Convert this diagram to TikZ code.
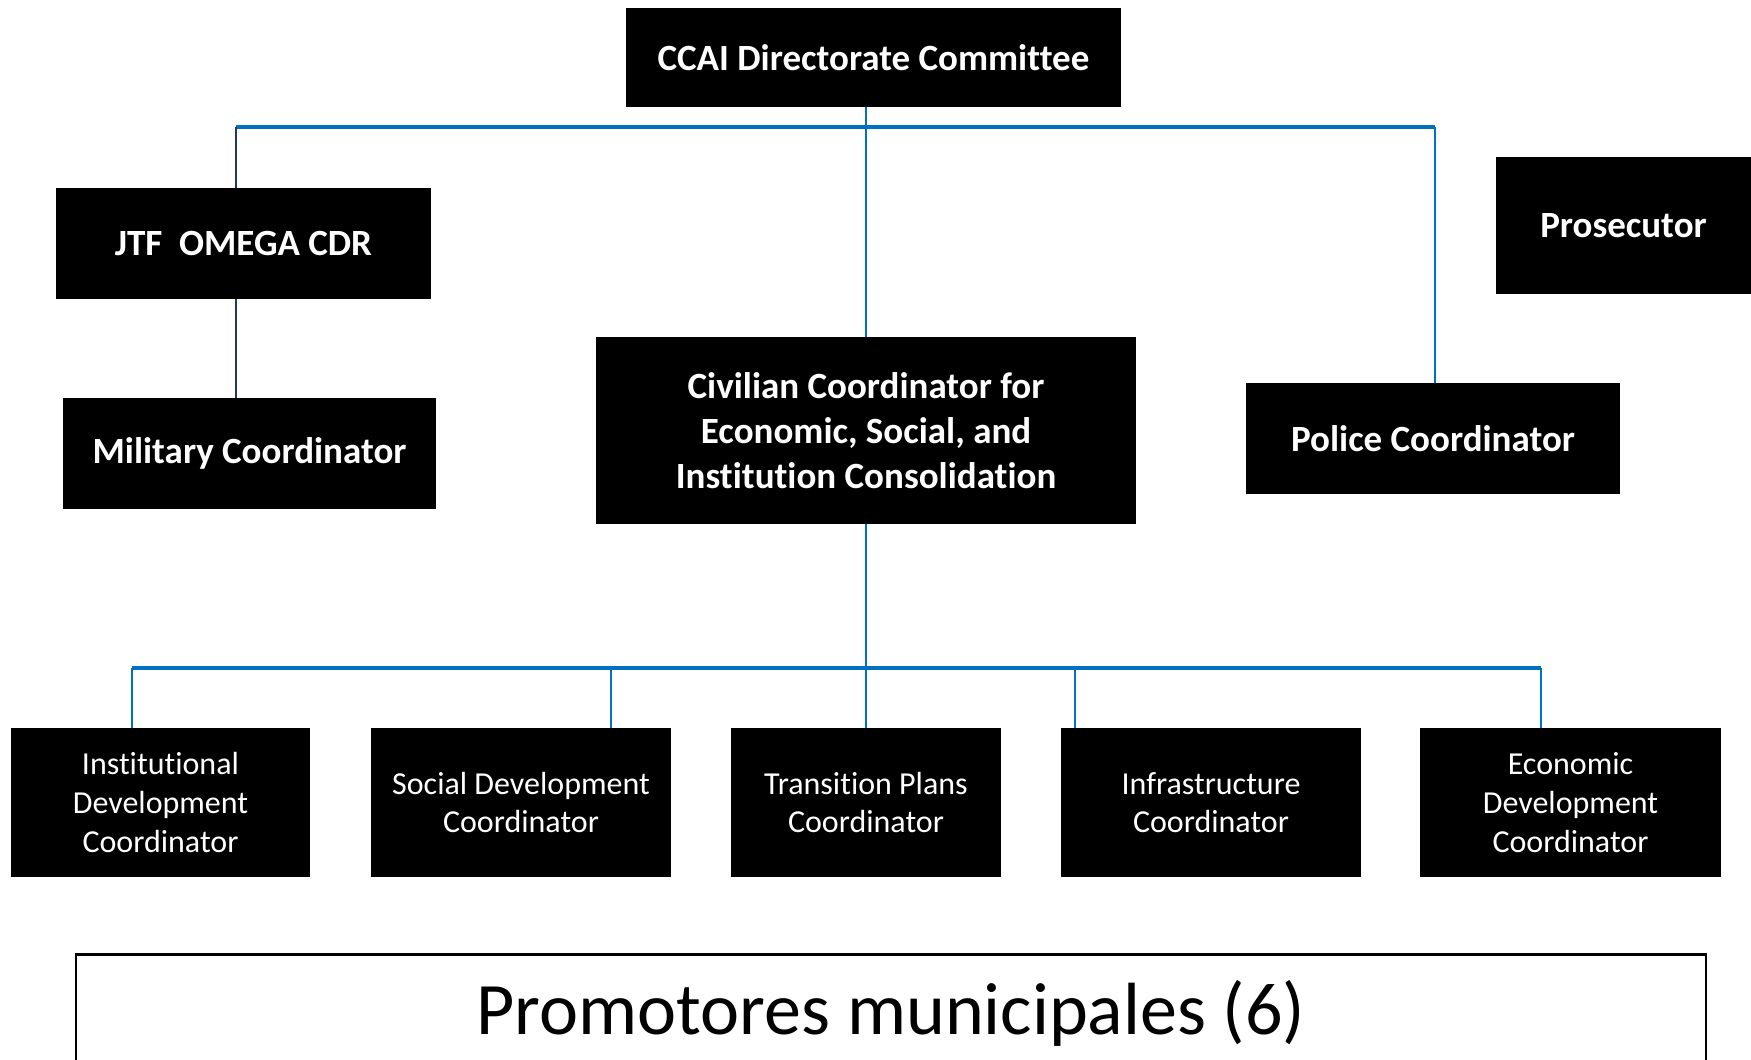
\documentclass[tikz,border=0pt]{standalone}
\usepackage{fontspec}
\setmainfont{Carlito}[Ligatures=NoCommon]
\definecolor{lineblue}{HTML}{0070C0}
\definecolor{linenavy}{HTML}{203864}
\begin{document}
\begin{tikzpicture}[x=0.5pt,y=-0.5pt,
  box/.style={fill=black, text=white, align=center, inner sep=0pt},
  topbox/.style={box, font=\fontsize{18.5}{22.4}\selectfont\bfseries},
  subbox/.style={box, font=\fontsize{16}{19.3}\selectfont, minimum height=74.5pt},
  blink/.style={draw=lineblue, line width=1pt},
  bbar/.style={draw=lineblue, line width=1.6pt},
  nlink/.style={draw=linenavy, line width=1.1pt}]
\useasboundingbox (0,0) rectangle (1751,1060);
\clip (0,0) rectangle (1751,1060);
\fill[white] (0,0) rectangle (1751,1060);

% top level
\node[topbox, minimum width=247.5pt, minimum height=49.5pt] (ccai) at (873.5,57.5) {CCAI Directorate Committee};
\node[topbox, minimum width=187.5pt, minimum height=55.5pt] (jtf) at (243.5,243.5) {JTF~~OMEGA CDR};
\node[topbox, minimum width=186.5pt, minimum height=55.5pt] (mil) at (249.5,453.5) {Military Coordinator};
\node[topbox, minimum width=127.5pt, minimum height=68.5pt] (pros) at (1623.5,225.5) {Prosecutor};
\node[topbox, minimum width=270pt, minimum height=93.5pt] (civ) at (866,430.5) {Civilian Coordinator for\\Economic, Social, and\\Institution Consolidation};
\node[topbox, minimum width=187pt, minimum height=55.5pt] (pol) at (1433,438.5) {Police Coordinator};

% bottom level
\node[subbox, minimum width=149.5pt] (inst) at (160.5,802.5) {Institutional\\Development\\Coordinator};
\node[subbox, minimum width=150pt] (soc) at (521,802.5) {Social Development\\Coordinator};
\node[subbox, minimum width=135pt] (trans) at (866,802.5) {Transition Plans\\Coordinator};
\node[subbox, minimum width=150pt] (infra) at (1211,802.5) {Infrastructure\\Coordinator};
\node[subbox, minimum width=150.5pt] (econ) at (1570.5,802.5) {Economic\\Development\\Coordinator};

% promotores
\node[draw=black, line width=0.8pt, minimum width=815pt, minimum height=58pt, inner sep=0pt,
      font=\fontsize{37}{44}\selectfont] (prom) at (891,1013) {Promotores municipales (6)};
\draw[line width=1.6pt] (prom.north west) -- (prom.north east);

% top connectors
\coordinate (tL) at (236,127);
\coordinate (tR) at (1435,127);
\draw[bbar] (tL) -- (tR);
\draw[blink] (ccai.south -| civ.north) -- (civ.north);
\draw[blink] (tR) -- (tR |- pol.north);
\draw[nlink] (tL) -- (tL |- jtf.north);
\draw[nlink] (tL |- jtf.south) -- (tL |- mil.north);

% bottom connectors
\coordinate (bL) at (132,668);
\coordinate (b2) at (611,668);
\coordinate (b4) at (1075,668);
\coordinate (bR) at (1541,668);
\draw[bbar] (bL) -- (bR);
\draw[blink] (civ.south) -- (trans.north);
\draw[blink] (bL) -- (bL |- inst.north);
\draw[blink] (b2) -- (b2 |- soc.north);
\draw[blink] (b4) -- (b4 |- infra.north);
\draw[blink] (bR) -- (bR |- econ.north);
\end{tikzpicture}
\end{document}
